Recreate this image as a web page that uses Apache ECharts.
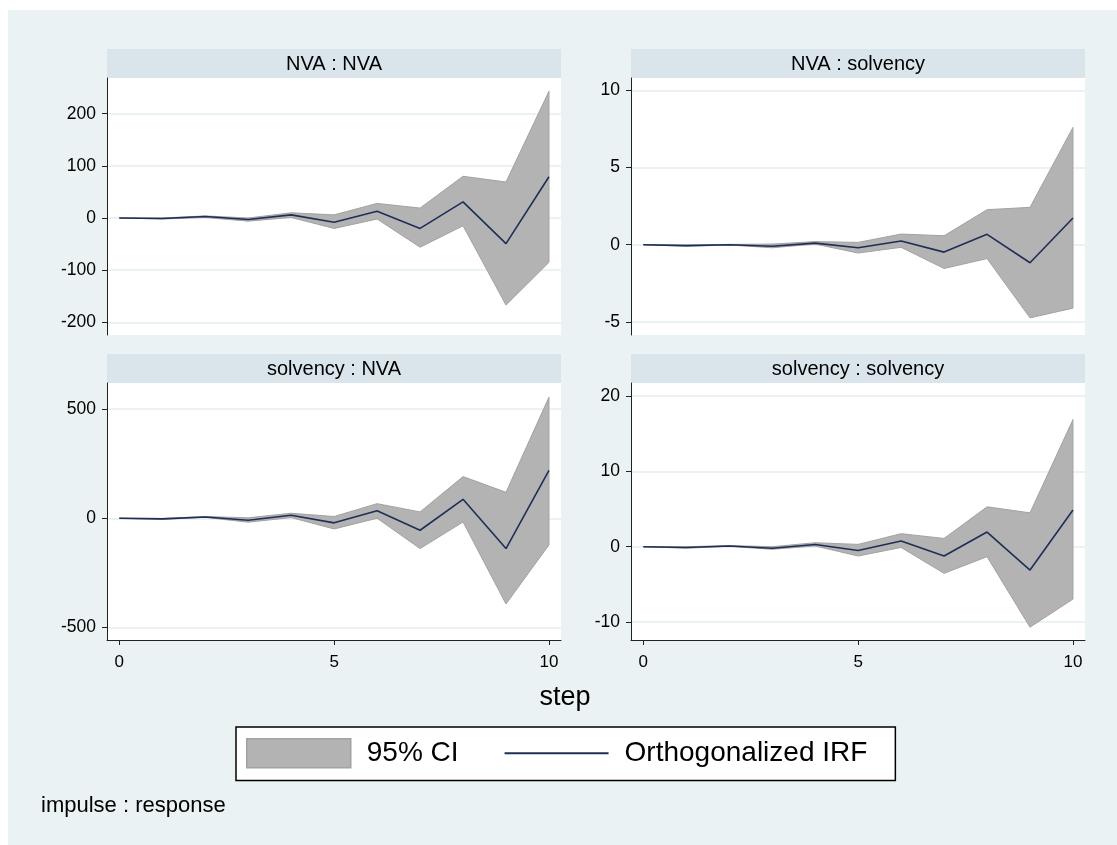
<!DOCTYPE html>
<html>
<head>
<meta charset="utf-8">
<script src="https://cdn.jsdelivr.net/npm/echarts@6/dist/echarts.min.js"></script>
<style>
html, body { margin: 0; padding: 0; background: #fff; }
#main { width: 1117px; height: 845px; }
</style>
</head>
<body>
<div id="main"></div>
<script>
// horizon steps and tick values
var steps = [0, 1, 2, 3, 4, 5, 6, 7, 8, 9, 10];
var stepTicks = [0, 5, 10];

// impulse NVA -> response NVA
var nvaNvaIrf = [0, -1, 3, -3, 6, -8, 13, -20, 31, -49, 79];
var nvaNvaLo  = [0, -2, 1, -6, 1, -20, -2, -56, -15, -167, -85];
var nvaNvaHi  = [0, 0, 4, 0, 10, 6, 28, 19, 80, 69, 243];
var nvaNvaTicks = [-200, -100, 0, 100, 200];

// impulse NVA -> response solvency
var nvaSolIrf = [0, -0.06, 0, -0.1, 0.1, -0.2, 0.24, -0.48, 0.67, -1.17, 1.73];
var nvaSolLo  = [0, -0.1, -0.02, -0.2, 0.04, -0.54, -0.17, -1.54, -0.9, -4.74, -4.11];
var nvaSolHi  = [0, -0.02, 0.02, 0.04, 0.2, 0.15, 0.69, 0.58, 2.27, 2.42, 7.6];
var nvaSolTicks = [-5, 0, 5, 10];

// impulse solvency -> response NVA
var solNvaIrf = [0, -3, 6, -9, 14, -21, 34, -55, 87, -139, 219];
var solNvaLo  = [0, -5, 4, -18, 3, -49, 0, -139, -17, -393, -122];
var solNvaHi  = [0, -1, 8, 2, 23, 8, 67, 29, 191, 119, 555];
var solNvaTicks = [-500, 0, 500];

// impulse solvency -> response solvency
var solSolIrf = [0, -0.1, 0.1, -0.2, 0.3, -0.5, 0.75, -1.24, 1.95, -3.1, 4.87];
var solSolLo  = [0, -0.2, 0.05, -0.35, 0.1, -1.24, -0.1, -3.54, -1.33, -10.7, -6.96];
var solSolHi  = [0, 0, 0.15, 0, 0.53, 0.31, 1.73, 1.1, 5.3, 4.5, 16.9];
var solSolTicks = [-10, 0, 10, 20];

var FONT = '"Liberation Sans", Arial, sans-serif';
var BAND = '#b3b3b3';
var BAND_EDGE = '#a2a2a2';
var NAVY = '#1f2e56';

var panels = [
    { title: 'NVA : NVA', irf: nvaNvaIrf, lo: nvaNvaLo, hi: nvaNvaHi, ticks: nvaNvaTicks, min: -224.3, max: 268.4, left: 107, top: 78, bottom: false },
    { title: 'NVA : solvency', irf: nvaSolIrf, lo: nvaSolLo, hi: nvaSolHi, ticks: nvaSolTicks, min: -5.85, max: 10.8, left: 631, top: 78, bottom: false },
    { title: 'solvency : NVA', irf: solNvaIrf, lo: solNvaLo, hi: solNvaHi, ticks: solNvaTicks, min: -558, max: 620, left: 107, top: 383, bottom: true },
    { title: 'solvency : solvency', irf: solSolIrf, lo: solSolLo, hi: solSolHi, ticks: solSolTicks, min: -12.4, max: 21.76, left: 631, top: 383, bottom: true }
];

var pairs = function(ys){
    return steps.map(function(s, i){ return [s, ys[i]]; });
};

// the CI band: one polygon, upper edge forward then lower edge back
var bandRenderer = function(p){
    return function(params, api){
        if (params.dataIndex !== 0) return;
        var pts = [];
        var k;
        for (k = 0; k < steps.length; k++) pts.push(api.coord([steps[k], p.hi[k]]));
        for (k = steps.length - 1; k >= 0; k--) pts.push(api.coord([steps[k], p.lo[k]]));
        return {
            type: 'polygon',
            shape: { points: pts },
            style: { fill: BAND, stroke: BAND_EDGE, lineWidth: 1 }
        };
    };
};

var grids = [], xAxes = [], yAxes = [], series = [];
var graphics = [
    // white strip round the outer region, as in the Stata export
    { type: 'rect', left: 0, top: 0, shape: { width: 1117, height: 10 }, style: { fill: '#fff' } },
    { type: 'rect', left: 0, top: 0, shape: { width: 8, height: 845 }, style: { fill: '#fff' } }
];

panels.forEach(function(p, i){
    grids.push({
        left: p.left, top: p.top, width: 454, height: 257,
        show: true, backgroundColor: '#fff', borderWidth: 0
    });
    xAxes.push({
        type: 'value', gridIndex: i, min: -0.286, max: 10.28,
        show: p.bottom,
        axisLine: { show: true, onZero: false, lineStyle: { color: '#222', width: 1 } },
        axisTick: { show: true, length: 5, customValues: stepTicks, lineStyle: { color: '#222' } },
        axisLabel: { customValues: stepTicks, margin: 14, fontSize: 17, color: '#000', fontFamily: FONT },
        splitLine: { show: false }
    });
    yAxes.push({
        type: 'value', gridIndex: i, min: p.min, max: p.max,
        axisLine: { show: true, onZero: false, lineStyle: { color: '#222', width: 1 } },
        axisTick: { show: true, length: 5, customValues: p.ticks, lineStyle: { color: '#222' } },
        axisLabel: { customValues: p.ticks, margin: 11, fontSize: 17.5, color: '#000', fontFamily: FONT },
        splitLine: { show: true, lineStyle: { color: '#eaf2f3', width: 2 } }
    });

    series.push({
        name: '95% CI', type: 'custom', xAxisIndex: i, yAxisIndex: i,
        silent: true,
        itemStyle: { color: BAND },
        renderItem: bandRenderer(p),
        encode: { x: 0, y: [1, 2] },
        data: steps.map(function(s, k){ return [s, p.lo[k], p.hi[k]]; }),
        z: 2
    });
    series.push({
        name: 'Orthogonalized IRF', type: 'line', xAxisIndex: i, yAxisIndex: i,
        symbol: 'none', silent: true,
        itemStyle: { color: NAVY },
        lineStyle: { color: NAVY, width: 1.6 },
        data: pairs(p.irf), z: 5
    });

    // panel header band
    var headTop = p.top - 29;
    graphics.push({ type: 'rect', left: p.left, top: headTop, shape: { width: 454, height: 29 }, style: { fill: '#d9e5ea' } });
    graphics.push({
        type: 'text', x: p.left + 227, y: headTop + 15,
        style: { text: p.title, align: 'center', verticalAlign: 'middle',
                 font: '20px ' + FONT, fill: '#000' }
    });
});

var option = {
    backgroundColor: '#eaf2f3',
    animation: false,
    title: [
        { text: 'step', left: 565, top: 684, textAlign: 'center', padding: 0,
          textStyle: { fontSize: 27, fontWeight: 'normal', color: '#000', fontFamily: FONT } },
        { text: 'impulse : response', left: 41, top: 795, padding: 0,
          textStyle: { fontSize: 22, fontWeight: 'normal', color: '#000', fontFamily: FONT } }
    ],
    legend: {
        left: 236, top: 727,
        padding: [11, 28, 12, 10],
        backgroundColor: '#fff',
        borderColor: '#000', borderWidth: 1.5, borderRadius: 0,
        itemWidth: 104, itemHeight: 29, itemGap: 46,
        selectedMode: false,
        textStyle: { fontSize: 28, color: '#000', fontFamily: FONT, padding: [0, 0, 0, 11] },
        data: [
            { name: '95% CI', icon: 'rect', itemStyle: { color: BAND, borderColor: BAND_EDGE, borderWidth: 1.5 } },
            { name: 'Orthogonalized IRF', icon: 'path://M0,0h104v2h-104z', itemStyle: { color: NAVY } }
        ]
    },
    grid: grids,
    xAxis: xAxes,
    yAxis: yAxes,
    series: series,
    graphic: graphics
};

var myChart = echarts.init(document.getElementById('main'));
myChart.setOption(option);
</script>
</body>
</html>
